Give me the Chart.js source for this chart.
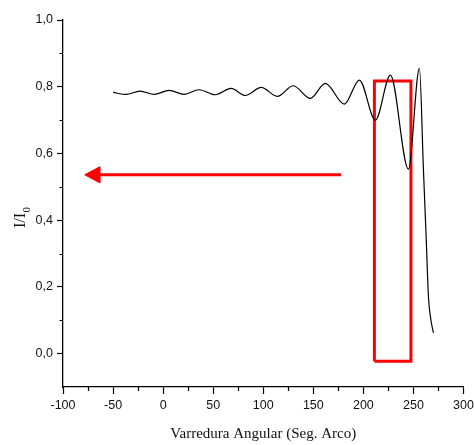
<!DOCTYPE html>
<html>
<head>
<meta charset="utf-8">
<script src="https://cdn.jsdelivr.net/npm/chart.js@4.4.1/dist/chart.umd.min.js"></script>
<style>
  html, body { margin: 0; padding: 0; background: #fff; }
  canvas { display: block; }
</style>
</head>
<body>
<canvas id="scanChart" width="474" height="445"></canvas>
<script>
// I/I0 against angular scan (arc seconds) - extrema of the fringe pattern
const scanAngle = [-50, -37, -23, -9, 6, 21, 36, 52, 68, 82, 98, 114, 130, 147, 162, 181, 196, 212, 227, 245, 256, 260, 262.7, 265, 267.5, 270];
const intensity = [0.783, 0.777, 0.787, 0.777, 0.789, 0.777, 0.791, 0.776, 0.795, 0.774, 0.798, 0.771, 0.803, 0.765, 0.810, 0.748, 0.820, 0.700, 0.835, 0.553, 0.855, 0.55, 0.35, 0.17, 0.10, 0.062];

// highlighted window
const boxX = [211, 247.5, 247.5, 211, 211];
const boxY = [-0.023, -0.023, 0.817, 0.817, -0.023];

// arrow: shaft and head
const arrowX = [177.7, -66];
const arrowY = [0.536, 0.536];
const headX = [-78.3, -63.3, -63.3, -78.3];
const headY = [0.536, 0.560, 0.512, 0.536];

// axis ticks
const xTicks = [-100, -50, 0, 50, 100, 150, 200, 250, 300];
const xMinor = [-75, -25, 25, 75, 125, 175, 225, 275];
const yTicks = [0, 0.2, 0.4, 0.6, 0.8, 1.0];
const yMinor = [0.1, 0.3, 0.5, 0.7, 0.9];

function toPoints(xs, ys) {
    return xs.map((v, i) => ({ x: v, y: ys[i] }));
}

// minor ticks + rotated y title with subscript
const extras = {
    id: 'extras',
    afterDraw(chart) {
        const { ctx, chartArea } = chart;
        const x = chart.scales.x, y = chart.scales.y;
        ctx.save();
        ctx.strokeStyle = '#000';
        ctx.lineWidth = 1.2;
        ctx.beginPath();
        xMinor.forEach(v => {
            const px = Math.round(x.getPixelForValue(v)) + 0.5;
            ctx.moveTo(px, chartArea.bottom);
            ctx.lineTo(px, chartArea.bottom + 4);
        });
        yMinor.forEach(v => {
            const py = Math.round(y.getPixelForValue(v)) + 0.5;
            ctx.moveTo(chartArea.left, py);
            ctx.lineTo(chartArea.left - 3.5, py);
        });
        ctx.stroke();

        ctx.fillStyle = '#111';
        ctx.translate(25, 228);
        ctx.rotate(-Math.PI / 2);
        ctx.textAlign = 'left';
        ctx.textBaseline = 'alphabetic';
        ctx.font = '16px "Liberation Serif", "Times New Roman", serif';
        ctx.fillText('I/I', 0, 0);
        const w = ctx.measureText('I/I').width;
        ctx.font = '11px "Liberation Serif", "Times New Roman", serif';
        ctx.fillText('0', w + 0.5, 5);
        ctx.restore();
    }
};

new Chart(document.getElementById('scanChart'), {
    type: 'line',
    data: {
        datasets: [
            {
                data: toPoints(scanAngle, intensity),
                borderColor: '#000',
                borderWidth: 1.2,
                pointRadius: 0,
                cubicInterpolationMode: 'monotone',
                fill: false,
                order: 0
            },
            {
                data: toPoints(boxX, boxY),
                borderColor: '#ff0000',
                borderWidth: 3,
                pointRadius: 0,
                tension: 0,
                fill: false,
                order: 1
            },
            {
                data: toPoints(arrowX, arrowY),
                borderColor: '#ff0000',
                borderWidth: 3,
                pointRadius: 0,
                fill: false,
                order: 1
            },
            {
                data: toPoints(headX, headY),
                borderColor: '#ff0000',
                backgroundColor: '#ff0000',
                borderWidth: 1,
                pointRadius: 0,
                tension: 0,
                fill: 'shape',
                order: 1
            }
        ]
    },
    options: {
        responsive: false,
        animation: false,
        layout: { padding: { left: 0, top: 20, right: 10.5, bottom: 0 } },
        plugins: {
            legend: { display: false },
            tooltip: { enabled: false }
        },
        scales: {
            x: {
                type: 'linear',
                min: -100,
                max: 300,
                afterBuildTicks: scale => { scale.ticks = xTicks.map(v => ({ value: v })); },
                afterFit: scale => {
                    scale.height = 58;
                    scale.paddingLeft = 0;
                    scale.paddingRight = 0;
                },
                grid: { display: true, drawOnChartArea: false, tickLength: 7, tickColor: '#000', tickWidth: 1.2 },
                border: { display: true, color: '#000', width: 1.3 },
                ticks: {
                    color: '#111',
                    padding: 4,
                    maxRotation: 0,
                    font: { family: '"Liberation Sans", Arial, sans-serif', size: 12.5 },
                    callback: v => String(v)
                },
                title: {
                    display: true,
                    text: 'Varredura Angular (Seg. Arco)',
                    color: '#111',
                    padding: { top: 0, bottom: 2 },
                    font: { family: '"Liberation Serif", "Times New Roman", serif', size: 15 }
                }
            },
            y: {
                type: 'linear',
                min: -0.1,
                max: 1.0,
                afterBuildTicks: scale => { scale.ticks = yTicks.map(v => ({ value: v })); },
                afterFit: scale => {
                    scale.width = 63;
                    scale.paddingTop = 0;
                    scale.paddingBottom = 0;
                },
                grid: { display: true, drawOnChartArea: false, tickLength: 6, tickColor: '#000', tickWidth: 1.2 },
                border: { display: true, color: '#000', width: 1.3 },
                ticks: {
                    color: '#111',
                    padding: 4,
                    font: { family: '"Liberation Sans", Arial, sans-serif', size: 12.5 },
                    callback: v => v.toFixed(1).replace('.', ',')
                }
            }
        }
    },
    plugins: [extras]
});
</script>
</body>
</html>
